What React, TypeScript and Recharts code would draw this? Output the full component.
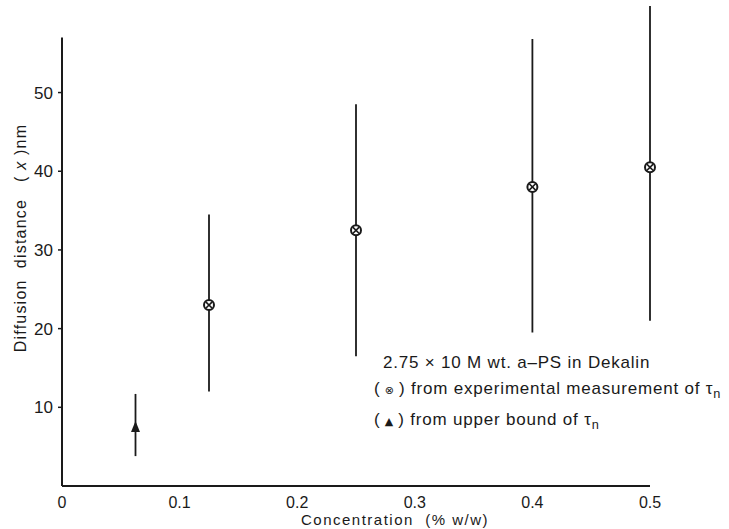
import React from "react";
import {
  ScatterChart,
  Scatter,
  XAxis,
  YAxis,
  ErrorBar,
  ReferenceLine,
  Label,
} from "recharts";

// concentration (% w/w)
const measuredConc = [0.125, 0.25, 0.4, 0.5];
const measuredDist = [23, 32.5, 38, 40.5];
const measuredLow = [12, 16.5, 19.5, 21];
const measuredHigh = [34.5, 48.5, 56.8, 61];

const boundConc = [0.0625];
const boundDist = [7.5];
const boundLow = [3.8];
const boundHigh = [11.7];

const xTicks = [0, 0.1, 0.2, 0.3, 0.4, 0.5];
const yTicks = [10, 20, 30, 40, 50];

const toRows = (xs: number[], ys: number[], lo: number[], hi: number[]) =>
  xs.map((x, i) => ({ x, y: ys[i], err: [ys[i] - lo[i], hi[i] - ys[i]] }));

const measuredData = toRows(measuredConc, measuredDist, measuredLow, measuredHigh);
const boundData = toRows(boundConc, boundDist, boundLow, boundHigh);

const INK = "#1a1a1a";
const FONT = "'Liberation Sans', Arial, sans-serif";

const CrossCircle = (props: any) => {
  const { cx, cy } = props;
  const r = 5;
  const d = 3.2;
  return (
    <g>
      <circle cx={cx} cy={cy} r={r} fill="#fff" stroke={INK} strokeWidth={2} />
      <line x1={cx - d} y1={cy - d} x2={cx + d} y2={cy + d} stroke={INK} strokeWidth={1.6} />
      <line x1={cx - d} y1={cy + d} x2={cx + d} y2={cy - d} stroke={INK} strokeWidth={1.6} />
    </g>
  );
};

const Triangle = (props: any) => {
  const { cx, cy } = props;
  return (
    <polygon
      points={`${cx},${cy - 6} ${cx - 4.5},${cy + 5} ${cx + 4.5},${cy + 5}`}
      fill={INK}
    />
  );
};

const tau = (
  <span>
    τ<sub style={{ fontSize: "0.75em" }}>n</sub>
  </span>
);

export default function App() {
  return (
    <div style={{ position: "absolute", left: 0, top: 0, width: 729, height: 529, background: "#fff" }}>
      <ScatterChart
        width={729}
        height={529}
        margin={{ top: 6, right: 79, bottom: 0, left: 0 }}
      >
        <XAxis
          type="number"
          dataKey="x"
          domain={[0, 0.5]}
          ticks={xTicks}
          tickFormatter={(v: number) => (v === 0 ? "0" : v.toFixed(1))}
          height={43}
          axisLine={{ stroke: INK, strokeWidth: 2 }}
          tickLine={false}
          tickMargin={5}
          tick={{ fill: INK, fontSize: 16, fontFamily: FONT }}
        >
          <Label
            content={({ viewBox }: any) => (
              <text
                x={viewBox.x + viewBox.width / 2 + 39}
                y={viewBox.y + 39}
                textAnchor="middle"
                fill={INK}
                fontSize={15}
                fontFamily={FONT}
                letterSpacing={1.5}
                style={{ whiteSpace: "pre" }}
              >
                {"Concentration  (% w/w)"}
              </text>
            )}
          />
        </XAxis>
        <YAxis
          type="number"
          dataKey="y"
          domain={[0, 61]}
          ticks={yTicks}
          width={62}
          axisLine={false}
          tickLine={{ stroke: INK, strokeWidth: 1.5 }}
          tickSize={4}
          tickMargin={5}
          tick={{ fill: INK, fontSize: 17, fontFamily: FONT }}
        >
          <Label
            content={({ viewBox }: any) => {
              const cx = 20;
              const cy = viewBox.y + viewBox.height / 2 - 8;
              return (
                <text
                  x={cx}
                  y={cy}
                  transform={`rotate(-90 ${cx} ${cy})`}
                  textAnchor="middle"
                  dominantBaseline="central"
                  fill={INK}
                  fontSize={16}
                  fontFamily={FONT}
                  letterSpacing={1.2}
                  style={{ whiteSpace: "pre" }}
                >
                  {"Diffusion  distance   ( "}
                  <tspan fontStyle="italic">x</tspan>
                  {" )nm"}
                </text>
              );
            }}
          />
        </YAxis>
        <ReferenceLine
          segment={[
            { x: 0, y: 0 },
            { x: 0, y: 57 },
          ]}
          stroke={INK}
          strokeWidth={2}
          ifOverflow="visible"
        />
        <Scatter data={measuredData} shape={CrossCircle} isAnimationActive={false}>
          <ErrorBar dataKey="err" direction="y" width={0} stroke={INK} strokeWidth={1.8} />
        </Scatter>
        <Scatter data={boundData} shape={Triangle} isAnimationActive={false}>
          <ErrorBar dataKey="err" direction="y" width={0} stroke={INK} strokeWidth={1.8} />
        </Scatter>
      </ScatterChart>
      <div
        style={{
          position: "absolute",
          left: 374,
          top: 350,
          fontFamily: FONT,
          fontSize: 17,
          color: INK,
          lineHeight: "26px",
          whiteSpace: "nowrap",
          letterSpacing: 0.8,
        }}
      >
        <div style={{ paddingLeft: 9 }}>2.75 × 10 M wt. a–PS in Dekalin</div>
        <div>
          (<span style={{ fontFamily: "'DejaVu Sans'", fontSize: 11 }}> ⊗ </span>) from experimental measurement of {tau}
        </div>
        <div>
          (<span style={{ fontFamily: "'DejaVu Sans'", fontSize: 11 }}> ▲ </span>) from upper bound of {tau}
        </div>
      </div>
    </div>
  );
}
